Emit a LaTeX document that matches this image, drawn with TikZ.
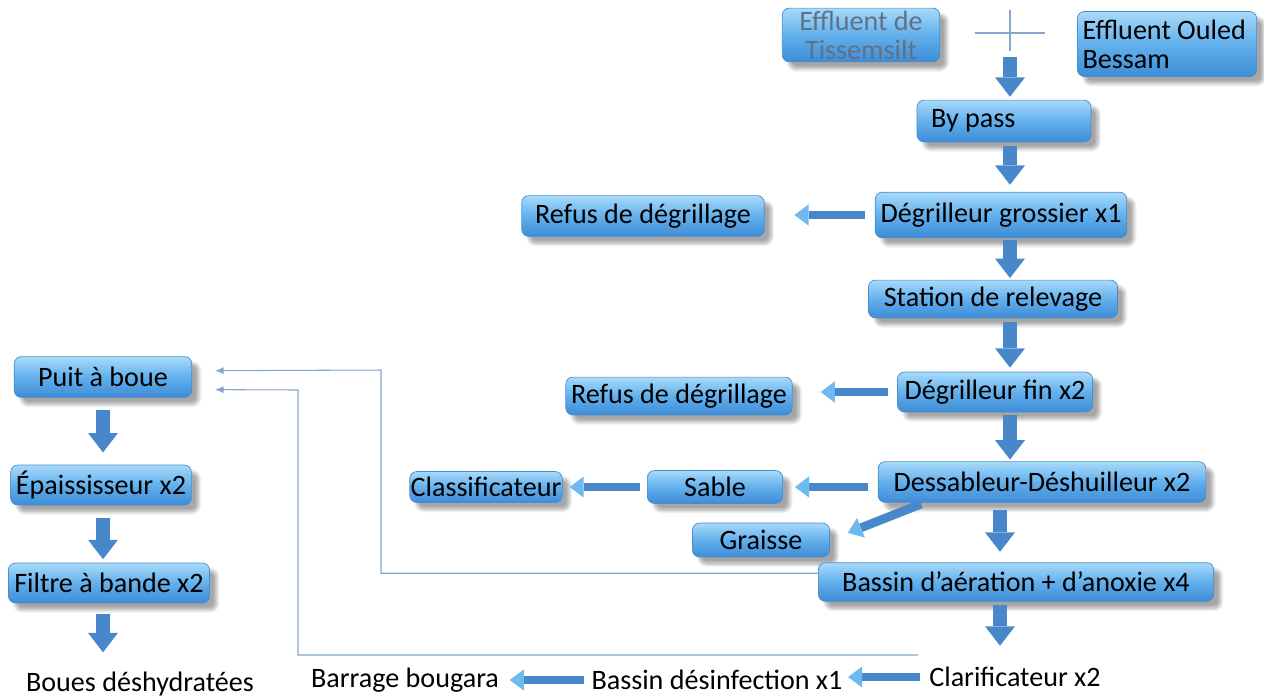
\documentclass[tikz,border=0pt]{standalone}
\usepackage{fontspec}
\setmainfont{Carlito}
\usepackage{tikz}
\usetikzlibrary{arrows.meta,shadows.blur,calc}
\definecolor{boxtop}{RGB}{168,218,250}
\definecolor{boxmid}{RGB}{98,176,236}
\definecolor{boxbot}{RGB}{62,140,214}
\definecolor{boxedge}{RGB}{72,140,205}
\definecolor{flowblue}{RGB}{72,136,202}
\definecolor{flowlight}{RGB}{110,185,238}
\definecolor{linkblue}{RGB}{135,165,205}
\definecolor{greytext}{RGB}{96,114,134}

\begin{document}
\begin{tikzpicture}[x=0.02cm,y=-0.02cm,
  box/.style={rounded corners=4pt,draw=boxedge,line width=0.4pt,
    top color=boxtop,bottom color=boxbot,middle color=boxmid,
    blur shadow={shadow xshift=4pt,shadow yshift=-4pt,shadow opacity=35,shadow blur steps=8},
    inner xsep=3pt,inner ysep=1pt,font=\fontsize{16}{16.5}\selectfont},
  plaintext/.style={inner sep=2pt,font=\fontsize{16}{16.5}\selectfont},
  flowv/.style={draw=flowblue,line width=8pt,-{Triangle[width=17pt,length=11pt,line width=0pt]}},
  flowh/.style={draw=flowblue,line width=5pt,-{Triangle[width=12pt,length=8pt,line width=0pt,color=flowlight]}},
  feedback/.style={draw=linkblue,line width=0.6pt,-{Latex[length=5pt,width=4pt]}}]
\useasboundingbox (0,0) rectangle (1264,698);
\coordinate (junc) at (1010,33);
\coordinate (trunk) at (1000,0);
\coordinate (ret1) at (381,370);
\coordinate (ret2) at (298,390);
\coordinate (clarout) at (918,655);

% inflow
\node[box,text=greytext,align=center,minimum width=89.6pt,minimum height=30.6pt] (tiss) at (861,35) {Effluent de\\Tissemsilt};
\node[box,align=flush left,text width=96pt,minimum height=37pt] (ouled) at (1167,44) {Effluent Ouled\\Bessam};
\draw[linkblue,line width=0.6pt] ([xshift=-20pt]junc) -- ([xshift=20pt]junc);
\draw[linkblue,line width=0.6pt] ([yshift=13pt]junc) -- ([yshift=-10pt]junc);

% water line
\node[box,align=flush left,text width=83pt,inner xsep=8pt,minimum height=23.8pt] (bypass) at (1004,121) {By pass};
\node[box,minimum width=143pt,minimum height=26pt] (grossier) at (1001,215) {Dégrilleur grossier x1};
\node[box,minimum width=138pt,minimum height=23.2pt] (refus1) at (643,216) {Refus de dégrillage};
\node[box,minimum width=141.8pt,minimum height=21.5pt] (relevage) at (993,299) {Station de relevage};
\node[box,minimum width=111pt,minimum height=22.7pt] (fin) at (995,392) {Dégrilleur fin x2};
\node[box,minimum width=128pt,minimum height=21.5pt] (refus2) at (679,396) {Refus de dégrillage};
\node[box,minimum width=186.5pt,minimum height=23.2pt] (dessab) at (1042,482) {Dessableur-Déshuilleur x2};
\node[box,minimum width=77pt,minimum height=18.7pt] (sable) at (715,487) {Sable};
\node[box,inner xsep=0pt,minimum width=86.8pt,minimum height=17.6pt] (classif) at (486,487) {Classificateur};
\node[box,minimum width=78pt,minimum height=19.3pt] (graisse) at (761,540) {Graisse};
\node[box,minimum width=225pt,minimum height=22pt] (bassin) at (1016,582) {Bassin d’aération + d’anoxie x4};
\node[plaintext] (clarif) at (1015,677) {Clarificateur x2};
\node[plaintext] (desinf) at (717,680) {Bassin désinfection x1};
\node[plaintext] (barrage) at (405,680) {Barrage bougara};

% sludge line
\node[box,minimum width=101pt,minimum height=23.2pt] (puit) at (103,377) {Puit à boue};
\node[box,minimum width=101pt,minimum height=22.7pt] (epais) at (101,485) {Épaississeur x2};
\node[box,minimum width=114.5pt,minimum height=22.7pt] (filtre) at (109,583) {Filtre à bande x2};
\node[plaintext] (boues) at (140,684) {Boues déshydratées};

% main arrows
\draw[flowv,shorten <=13.6pt,shorten >=1.7pt] (junc) -- (junc |- bypass.north);
\draw[flowv,shorten <=2pt,shorten >=4pt] (junc |- bypass.south) -- (junc |- grossier.north);
\draw[flowv,shorten <=1pt,shorten >=1pt] (junc |- grossier.south) -- (junc |- relevage.north);
\draw[flowv,shorten <=2.3pt,shorten >=2.3pt] (junc |- relevage.south) -- (junc |- fin.north);
\draw[flowv,shorten <=1.7pt,shorten >=1pt] (junc |- fin.south) -- (junc |- dessab.north);
\draw[flowv,shorten <=4pt,shorten >=6pt] (trunk |- dessab.south) -- (trunk |- bassin.north);
\draw[flowv,shorten <=1.7pt,shorten >=10pt] (trunk |- bassin.south) -- (trunk |- clarif.north);
\draw[flowh,shorten <=5.7pt,shorten >=17pt] (grossier.west) -- (grossier.west -| refus1.east);
\draw[flowh,shorten <=5pt,shorten >=16pt] (fin.west) -- (fin.west -| refus2.east);
\draw[flowh,shorten <=5.7pt,shorten >=6.8pt] (sable.east -| dessab.west) -- (sable.east);
\draw[flowh,shorten <=4pt,shorten >=4pt] (sable.west) -- (sable.west -| classif.east);
\draw[flowh,shorten <=2pt,shorten >=11pt] (dessab.190) -- (graisse.east);
\draw[flowh,shorten <=3pt,shorten >=1pt] (clarif.west) -- (clarif.west -| desinf.east);
\draw[flowh,shorten <=2pt,shorten >=4pt] (desinf.west) -- (desinf.west -| barrage.east);
\draw[flowv,shorten <=7pt,shorten >=7pt] (puit.south) -- (puit.south |- epais.north);
\draw[flowv,shorten <=7pt,shorten >=2pt] (puit.south |- epais.south) -- (puit.south |- filtre.north);
\draw[flowv,shorten <=6pt,shorten >=9pt] (puit.south |- filtre.south) -- (puit.south |- boues.north);

% sludge return
\draw[feedback,shorten >=13pt] ([yshift=5pt]bassin.west) -| (ret1) -- (puit.4);
\draw[feedback,shorten >=13pt] (clarout) -| (ret2) -- (puit.-8);
\end{tikzpicture}
\end{document}
